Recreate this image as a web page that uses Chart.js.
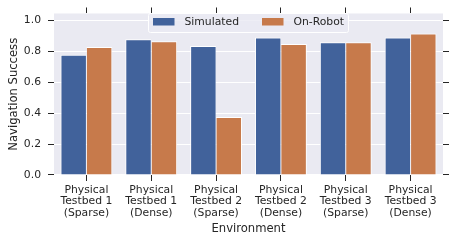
<!DOCTYPE html>
<html>
<head>
<meta charset="utf-8">
<script src="https://cdn.jsdelivr.net/npm/chart.js@4"></script>
<style>
  html, body { margin: 0; padding: 0; background: #fff; }
</style>
</head>
<body>
<canvas id="chart" width="450" height="243"></canvas>
<script>
const categories = [
  ['Physical', 'Testbed 1', '(Sparse)'],
  ['Physical', 'Testbed 1', '(Dense)'],
  ['Physical', 'Testbed 2', '(Sparse)'],
  ['Physical', 'Testbed 2', '(Dense)'],
  ['Physical', 'Testbed 3', '(Sparse)'],
  ['Physical', 'Testbed 3', '(Dense)']
]
const simulated = [0.777, 0.877, 0.833, 0.889, 0.858, 0.889]
const onRobot = [0.827, 0.864, 0.375, 0.846, 0.858, 0.914]
const yTicks = [0, 0.2, 0.4, 0.6, 0.8, 1.0]
const seriesNames = ['Simulated', 'On-Robot']

const BLUE = '#41629b'
const ORANGE = '#c77a4b'
const INK = '#262626'
const FONT = 'DejaVu Sans'

Chart.defaults.font.family = FONT
Chart.defaults.color = INK

// plot background like seaborn darkgrid
const plotBg = {
  id: 'plotBg',
  beforeDraw(chart) {
    const { ctx, chartArea: a } = chart
    ctx.save()
    ctx.fillStyle = '#eaeaf2'
    ctx.fillRect(a.left, a.top, a.right - a.left, a.bottom - a.top)
    ctx.restore()
  }
}

// legend drawn inside the plot, two columns
const innerLegend = {
  id: 'innerLegend',
  afterDatasetsDraw(chart) {
    const ctx = chart.ctx
    const x = 148.5, y = 13.5, w = 200, h = 19
    ctx.save()
    ctx.beginPath()
    ctx.roundRect(x, y, w, h, 2)
    ctx.fillStyle = 'rgba(234,234,242,0.8)'
    ctx.fill()
    ctx.strokeStyle = '#ffffff'
    ctx.lineWidth = 1
    ctx.stroke()
    const colors = [BLUE, ORANGE]
    const patchX = [153, 262]
    ctx.font = `10.8px "${FONT}"`
    ctx.textBaseline = 'middle'
    seriesNames.forEach((name, i) => {
      ctx.fillStyle = colors[i]
      ctx.fillRect(patchX[i], 18, 21.5, 7.5)
      ctx.fillStyle = INK
      ctx.fillText(name, patchX[i] + 31.5, 22)
    })
    ctx.restore()
  }
}

const fixSize = (prop, val) => (scale) => { scale[prop] = val }
const setTicks = (scale) => { scale.ticks = yTicks.map((v) => ({ value: v })) }

const tickGrid = {
  drawOnChartArea: false,
  offset: false,
  tickLength: 6,
  tickColor: INK,
  tickWidth: 1
}

new Chart(document.getElementById('chart'), {
  type: 'bar',
  data: {
    labels: categories,
    datasets: [
      {
        label: seriesNames[0],
        data: simulated,
        backgroundColor: BLUE,
        borderColor: '#ffffff',
        borderWidth: { top: 1, left: 1, right: 0.5 },
        categoryPercentage: 0.8,
        barPercentage: 1.0
      },
      {
        label: seriesNames[1],
        data: onRobot,
        backgroundColor: ORANGE,
        borderColor: '#ffffff',
        borderWidth: { top: 1, left: 0.5, right: 1 },
        categoryPercentage: 0.8,
        barPercentage: 1.0
      }
    ]
  },
  options: {
    responsive: false,
    animation: false,
    devicePixelRatio: 1,
    layout: { padding: 0 },
    plugins: {
      legend: { display: false },
      tooltip: { enabled: false }
    },
    scales: {
      x: {
        position: 'bottom',
        offset: true,
        border: { display: false },
        grid: tickGrid,
        ticks: {
          maxRotation: 0,
          autoSkip: false,
          padding: 3,
          color: INK,
          font: { size: 10.8, lineHeight: 1.07 }
        },
        title: {
          display: true,
          text: 'Environment',
          color: INK,
          font: { size: 11.6 },
          padding: { top: 4, bottom: 7 }
        },
        afterFit: fixSize('height', 68)
      },
      x2: {
        type: 'category',
        position: 'top',
        labels: categories,
        offset: true,
        border: { display: false },
        grid: tickGrid,
        ticks: { display: false },
        afterFit: fixSize('height', 8)
      },
      y: {
        position: 'left',
        min: 0,
        max: 1.044,
        border: { display: false },
        grid: { color: '#ffffff', lineWidth: 1, tickLength: 6, tickColor: INK, drawTicks: true },
        afterBuildTicks: setTicks,
        ticks: {
          padding: 7,
          color: INK,
          font: { size: 10.8 },
          callback: (v) => Number(v).toFixed(1)
        },
        title: {
          display: true,
          text: 'Navigation Success',
          color: INK,
          font: { size: 11.6 },
          padding: { top: 7, bottom: 0 }
        },
        afterFit: fixSize('width', 54)
      },
      y2: {
        position: 'right',
        min: 0,
        max: 1.044,
        border: { display: false },
        grid: tickGrid,
        afterBuildTicks: setTicks,
        ticks: { display: false },
        afterFit: fixSize('width', 7)
      }
    }
  },
  plugins: [plotBg, innerLegend]
})
</script>
</body>
</html>
